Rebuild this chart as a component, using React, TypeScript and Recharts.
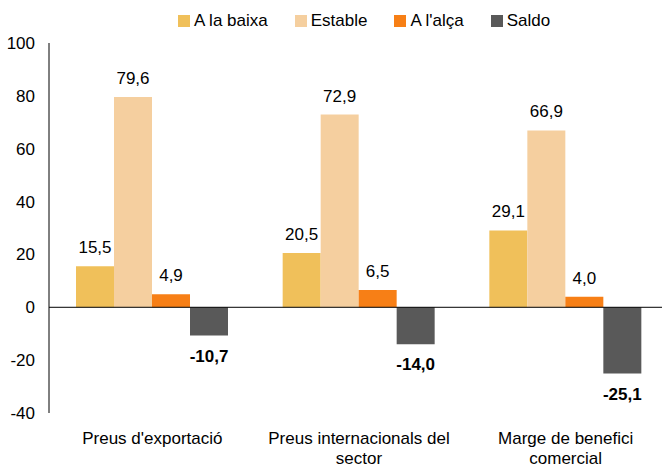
import React from "react";
import {
  BarChart,
  Bar,
  XAxis,
  YAxis,
  ReferenceLine,
  LabelList,
} from "recharts";

const categories = [
  "Preus d'exportació",
  "Preus internacionals del\nsector",
  "Marge de benefici\ncomercial",
];
const baixa = [15.5, 20.5, 29.1];
const estable = [79.6, 72.9, 66.9];
const alca = [4.9, 6.5, 4.0];
const saldo = [-10.7, -14.0, -25.1];
const yTicks = [-40, -20, 0, 20, 40, 60, 80, 100];

const series = [
  { key: "baixa", name: "A la baixa", color: "#F0C05A", bold: false },
  { key: "estable", name: "Estable", color: "#F5CF9F", bold: false },
  { key: "alca", name: "A l'alça", color: "#F77F16", bold: false },
  { key: "saldo", name: "Saldo", color: "#595959", bold: true },
];

const data = categories.map((c, i) => ({
  cat: c,
  baixa: baixa[i],
  estable: estable[i],
  alca: alca[i],
  saldo: saldo[i],
}));

const FONT = "'Liberation Sans', Arial, sans-serif";
const FS = 17;

const fmt = (v: number) => v.toFixed(1).replace(".", ",");

function makeLabel(bold: boolean) {
  return (props: any) => {
    const { x, y, width, height, value } = props;
    const top = Math.min(y, y + height);
    const bottom = Math.max(y, y + height);
    const cx = x + width / 2;
    const neg = value < 0;
    return (
      <text
        x={cx}
        y={neg ? bottom + 26 : top - 13}
        textAnchor="middle"
        fontFamily={FONT}
        fontSize={FS}
        fontWeight={bold ? "bold" : "normal"}
        fill="#000"
      >
        {fmt(value)}
      </text>
    );
  };
}

function CatTick(props: any) {
  const { x, y, payload } = props;
  const lines = String(payload.value).split("\n");
  return (
    <text
      x={x}
      y={y}
      textAnchor="middle"
      fontFamily={FONT}
      fontSize={FS}
      fill="#000"
    >
      {lines.map((l, i) => (
        <tspan key={i} x={x} dy={i === 0 ? 23 : 20}>
          {l}
        </tspan>
      ))}
    </text>
  );
}

function LegendBox() {
  return (
    <div
      style={{
        position: "absolute",
        top: 11,
        left: 178,
        display: "flex",
        fontFamily: FONT,
        fontSize: FS,
        lineHeight: "20px",
        color: "#000",
        whiteSpace: "nowrap",
      }}
    >
      {series.map((s) => (
        <div
          key={s.key}
          style={{ display: "flex", alignItems: "center", marginRight: 27 }}
        >
          <span
            style={{
              display: "inline-block",
              width: 12,
              height: 12,
              background: s.color,
              marginRight: 4,
            }}
          />
          <span>{s.name}</span>
        </div>
      ))}
    </div>
  );
}

export default function App() {
  return (
    <div
      style={{
        position: "absolute",
        left: 0,
        top: 0,
        width: 662,
        height: 466,
        overflow: "hidden",
        background: "#fff",
      }}
    >
      <LegendBox />
      <BarChart
        width={700}
        height={466}
        data={data}
        margin={{ top: 43, right: 31, bottom: 0, left: 0 }}
        barCategoryGap={27}
        barGap={0}
      >
        <XAxis
          dataKey="cat"
          axisLine={false}
          tickLine={false}
          height={53}
          interval={0}
          tick={<CatTick />}
        />
        <YAxis
          width={49}
          domain={[-40, 100]}
          ticks={yTicks}
          tickLine={false}
          tickSize={0}
          tickMargin={14}
          axisLine={{ stroke: "#000" }}
          tick={{ fontFamily: FONT, fontSize: FS, fill: "#000" }}
        />
        <ReferenceLine y={0} stroke="#000" strokeWidth={1} />
        {series.map((s) => (
          <Bar
            key={s.key}
            dataKey={s.key}
            name={s.name}
            fill={s.color}
            isAnimationActive={false}
          >
            <LabelList dataKey={s.key} content={makeLabel(s.bold)} />
          </Bar>
        ))}
      </BarChart>
    </div>
  );
}
